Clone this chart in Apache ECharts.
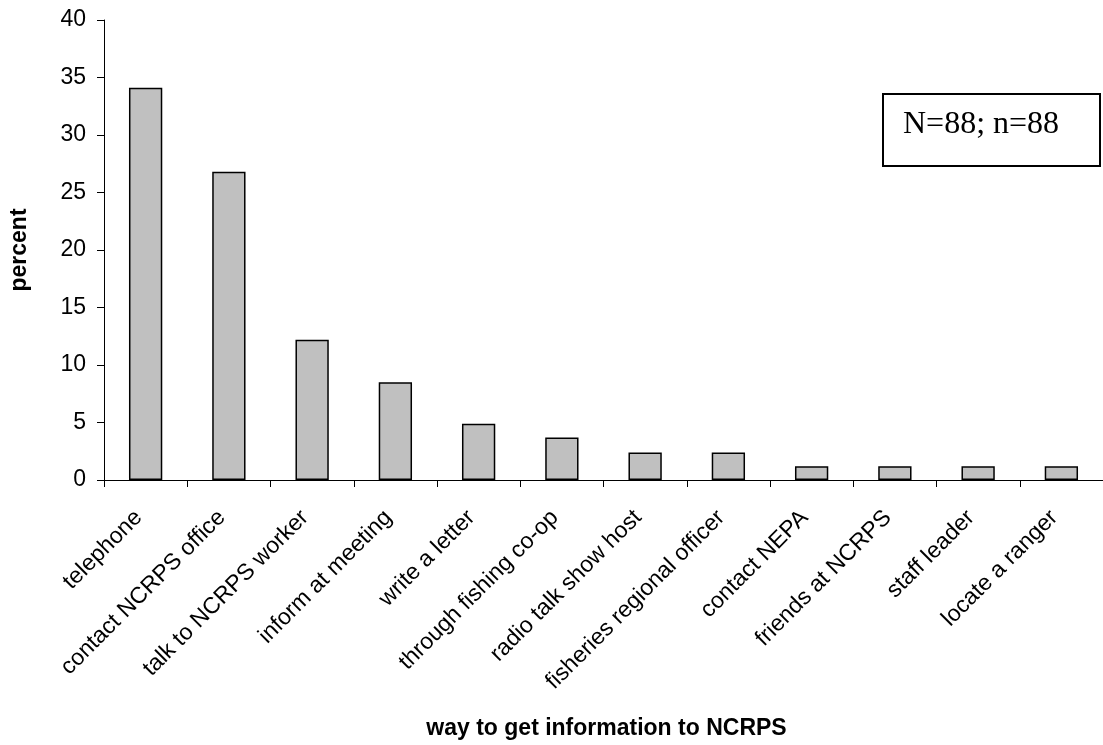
<!DOCTYPE html>
<html>
<head>
<meta charset="utf-8">
<script src="https://cdn.jsdelivr.net/npm/echarts@6/dist/echarts.min.js"></script>
<style>
  html, body { margin: 0; padding: 0; background: #fff; }
  #chart { width: 1103px; height: 745px; }
</style>
</head>
<body>
<div id="chart"></div>
<script>
// Ways respondents would get information to NCRPS (percent of respondents)
const categories = [
  'telephone', 'contact NCRPS office', 'talk to NCRPS worker', 'inform at meeting',
  'write a letter', 'through fishing co-op', 'radio talk show host',
  'fisheries regional officer', 'contact NEPA', 'friends at NCRPS',
  'staff leader', 'locate a ranger'
];
const percents = [34.1, 26.8, 12.2, 8.5, 4.9, 3.7, 2.4, 2.4, 1.2, 1.2, 1.2, 1.2];
const yTicks = { min: 0, max: 40, interval: 5 };
const xTitle = 'way to get information to NCRPS';
const yTitle = 'percent';
const sampleNote = 'N=88; n=88';

const SANS = '"Liberation Sans", Arial, sans-serif';
const SERIF = '"Liberation Serif", "Times New Roman", serif';

const chart = echarts.init(document.getElementById('chart'), null, { renderer: 'canvas' });

// plot area runs slightly past the right edge of the canvas
const grid = { left: 104, right: -6, top: 20, bottom: 265 };
const plotCenterX = grid.left + (1103 - grid.left - grid.right) / 2;
const plotCenterY = grid.top + (745 - grid.top - grid.bottom) / 2;

chart.setOption({
  animation: false,
  backgroundColor: '#ffffff',
  grid: Object.assign({ containLabel: false }, grid),
  xAxis: {
    type: 'category',
    data: categories,
    boundaryGap: true,
    axisLine: { show: true, lineStyle: { color: '#000', width: 1 } },
    axisTick: { show: true, alignWithLabel: false, length: 7, lineStyle: { color: '#000' } },
    axisLabel: {
      interval: 0,
      rotate: 45,
      margin: 27,
      padding: [0, 10, 0, 0],
      color: '#000',
      fontFamily: SANS,
      fontSize: 23
    },
    splitLine: { show: false }
  },
  yAxis: {
    type: 'value',
    min: yTicks.min,
    max: yTicks.max,
    interval: yTicks.interval,
    axisLine: { show: true, lineStyle: { color: '#000', width: 1 } },
    axisTick: { show: true, length: 7, lineStyle: { color: '#000' } },
    axisLabel: {
      color: '#000',
      margin: 18,
      fontFamily: SANS,
      fontSize: 23
    },
    splitLine: { show: false }
  },
  series: [{
    type: 'bar',
    data: percents,
    barWidth: '40%',
    itemStyle: { color: '#c0c0c0', borderColor: '#000', borderWidth: 1.5 }
  }],
  graphic: [
    {
      type: 'text',
      x: 20, y: plotCenterY,
      rotation: Math.PI / 2,
      style: {
        text: yTitle,
        fill: '#000',
        font: 'bold 23px ' + SANS,
        align: 'center',
        verticalAlign: 'middle'
      }
    },
    {
      type: 'text',
      x: plotCenterX, y: 729,
      style: {
        text: xTitle,
        fill: '#000',
        font: 'bold 23px ' + SANS,
        align: 'center',
        verticalAlign: 'middle'
      }
    },
    {
      type: 'rect',
      shape: { x: 883, y: 94, width: 217, height: 72 },
      style: { fill: '#fff', stroke: '#000', lineWidth: 2 }
    },
    {
      type: 'text',
      x: 903, y: 125,
      style: {
        text: sampleNote,
        fill: '#000',
        font: '32px ' + SERIF,
        align: 'left',
        verticalAlign: 'middle'
      }
    }
  ]
});
</script>
</body>
</html>
